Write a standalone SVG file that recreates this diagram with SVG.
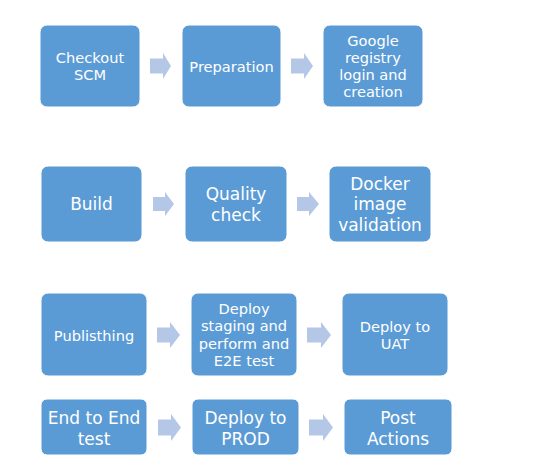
<svg xmlns="http://www.w3.org/2000/svg" width="558" height="476" viewBox="0 0 558 476">
<style>
.box{fill:#5B9BD5;stroke:#ffffff;stroke-width:1}
.arr{fill:#B4C7E7}
text{font-family:"DejaVu Sans","Verdana",sans-serif;fill:#ffffff;text-anchor:middle}
.s{font-size:14.6px}
.l{font-size:17px}
</style>
<rect width="558" height="476" fill="#ffffff"/>
<g id="connectors">
<polygon class="arr" points="150,58.5 163,58.5 163,53 171,66 163,79 163,73.5 150,73.5"/>
<polygon class="arr" points="291,58.5 304,58.5 304,53 313,66 304,79 304,73.5 291,73.5"/>
<polygon class="arr" points="153,197 165,197 165,192 174,204 165,216 165,211 153,211"/>
<polygon class="arr" points="297,197 309,197 309,192 319,204 309,216 309,211 297,211"/>
<polygon class="arr" points="157,327.5 170,327.5 170,322 180,335 170,348 170,342.5 157,342.5"/>
<polygon class="arr" points="307,327.5 321,327.5 321,322 331,335 321,348 321,342.5 307,342.5"/>
<polygon class="arr" points="158,419.5 171,419.5 171,414 181,427.5 171,441 171,435.5 158,435.5"/>
<polygon class="arr" points="309,419.5 323,419.5 323,414 333,427.5 323,441 323,435.5 309,435.5"/>
</g>
<g id="checkout-scm"><rect class="box" x="40" y="25" width="100" height="82" rx="7"/><text class="s" x="90" y="62.5">Checkout</text><text class="s" x="90" y="80">SCM</text></g>
<g id="preparation"><rect class="box" x="182" y="25" width="99" height="82" rx="7"/><text class="s" x="231.5" y="71.5">Preparation</text></g>
<g id="google-registry"><rect class="box" x="323" y="25" width="100" height="82" rx="7"/><text class="s" x="373" y="46">Google</text><text class="s" x="373" y="63">registry</text><text class="s" x="373" y="80">login and</text><text class="s" x="373" y="97">creation</text></g>
<g id="build"><rect class="box" x="41" y="166" width="101" height="76" rx="7"/><text class="l" x="91.5" y="210">Build</text></g>
<g id="quality-check"><rect class="box" x="185" y="166" width="102" height="76" rx="7"/><text class="l" x="236" y="200">Quality</text><text class="l" x="236" y="221">check</text></g>
<g id="docker-validation"><rect class="box" x="329" y="166" width="102" height="76" rx="7"/><text class="l" x="380" y="189.5">Docker</text><text class="l" x="380" y="210">image</text><text class="l" x="380" y="230.5">validation</text></g>
<g id="publisthing"><rect class="box" x="41" y="293" width="106" height="83" rx="7"/><text class="s" x="94" y="340.5">Publisthing</text></g>
<g id="deploy-staging"><rect class="box" x="191" y="293" width="106" height="83" rx="7"/><text class="s" x="244" y="313.5">Deploy</text><text class="s" x="244" y="331">staging and</text><text class="s" x="244" y="348.5">perform and</text><text class="s" x="244" y="366">E2E test</text></g>
<g id="deploy-uat"><rect class="box" x="342" y="293" width="106" height="83" rx="7"/><text class="s" x="395" y="331.5">Deploy to</text><text class="s" x="395" y="349">UAT</text></g>
<g id="e2e-test"><rect class="box" x="41" y="399" width="106" height="56" rx="6"/><text class="l" x="94" y="423.5">End to End</text><text class="l" x="94" y="444.5">test</text></g>
<g id="deploy-prod"><rect class="box" x="192" y="399" width="107" height="56" rx="6"/><text class="l" x="245.5" y="423.5">Deploy to</text><text class="l" x="245.5" y="444.5">PROD</text></g>
<g id="post-actions"><rect class="box" x="344" y="399" width="108" height="56" rx="6"/><text class="l" x="398" y="423.5">Post</text><text class="l" x="398" y="444.5">Actions</text></g>
</svg>
